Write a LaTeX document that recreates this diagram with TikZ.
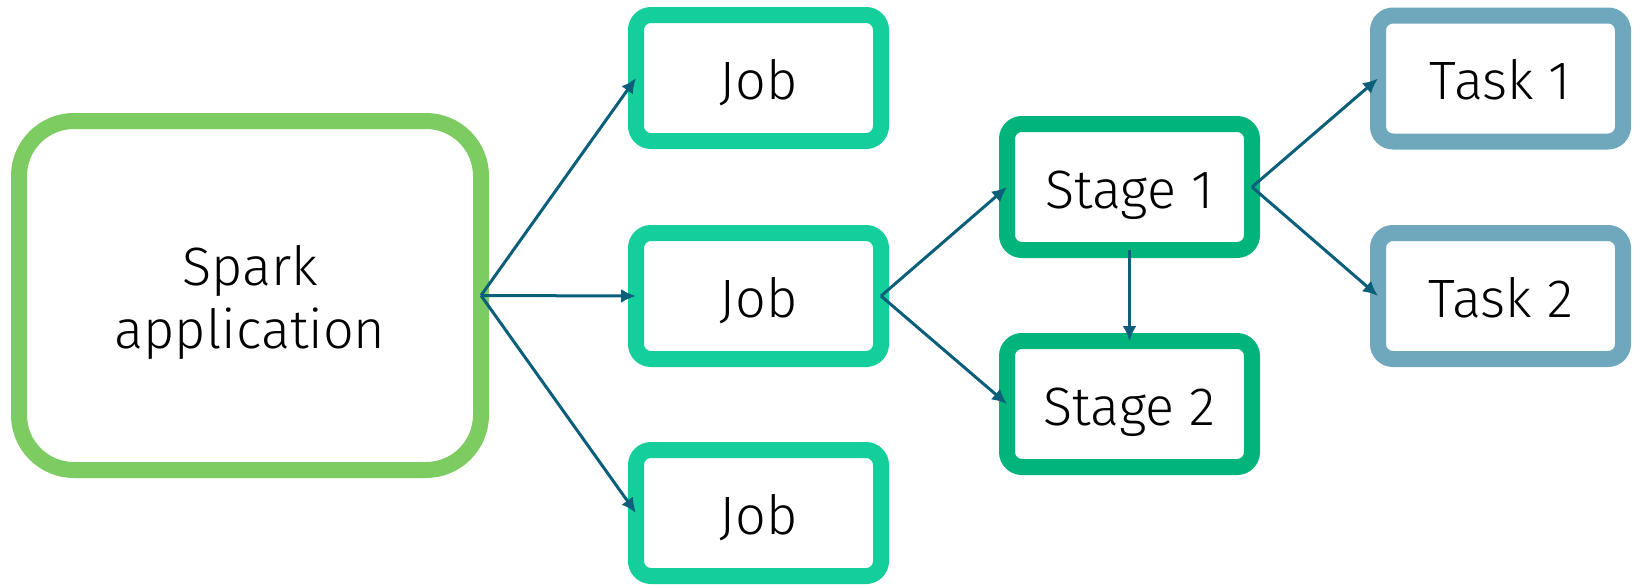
\documentclass[tikz,border=0pt]{standalone}
\usepackage{fontspec}
\setmainfont{Fira Sans}[UprightFont=* Light]
\usetikzlibrary{arrows.meta}
\definecolor{appgreen}{HTML}{7CCC62}
\definecolor{jobgreen}{HTML}{14CF9B}
\definecolor{stagegreen}{HTML}{00B47C}
\definecolor{taskblue}{HTML}{6FA7BD}
\definecolor{linkteal}{HTML}{0B5F7A}
\begin{document}
\begin{tikzpicture}[x=0.5pt,y=-0.5pt,
  box/.style={draw,line width=8pt,rounded corners=7.5pt,fill=white,
    minimum width=122.5pt,minimum height=63pt,inner sep=0pt,outer sep=0pt,
    font=\fontsize{27}{31.5}\selectfont,text height=21pt,text depth=0pt},
  jobbox/.style={box,draw=jobgreen},
  stagebox/.style={box,draw=stagegreen},
  taskbox/.style={box,draw=taskblue},
  link/.style={linkteal,line width=1.5pt,-{Latex[length=7.5pt,width=7pt]}}]
  \useasboundingbox (0,0) rectangle (1636,584);
  % application
  \node[draw=appgreen,line width=8pt,rounded corners=27.5pt,fill=white,
    minimum width=231pt,minimum height=174.5pt,outer sep=0pt] (app) at (250,295.5) {};
  \node[font=\fontsize{27}{31.5}\selectfont,align=center,yshift=-3.5pt]
    (apptext) at (app.center) {Spark\\application};
  % jobs
  \node[jobbox] (job1) at (758.5,78) {Job};
  \node[jobbox] (job2) at (758.5,296) {Job};
  \node[jobbox] (job3) at (758.5,513) {Job};
  % stages
  \node[stagebox] (stage1) at (1129.5,187) {Stage 1};
  \node[stagebox] (stage2) at (1129.5,404) {Stage 2};
  % tasks
  \node[taskbox] (task1) at (1500.5,78.5) {Task 1};
  \node[taskbox] (task2) at (1500.5,296) {Task 2};
  \draw[link] (app.east) -- (job1.west);
  \draw[link] (app.east) -- (job2.west);
  \draw[link] (app.east) -- (job3.west);
  \draw[link] (job2.east) -- (stage1.west);
  \draw[link] (job2.east) -- (stage2.west);
  \draw[link] (stage1.south) -- (stage2.north);
  \draw[link] (stage1.east) -- (task1.west);
  \draw[link] (stage1.east) -- (task2.west);
\end{tikzpicture}
\end{document}
